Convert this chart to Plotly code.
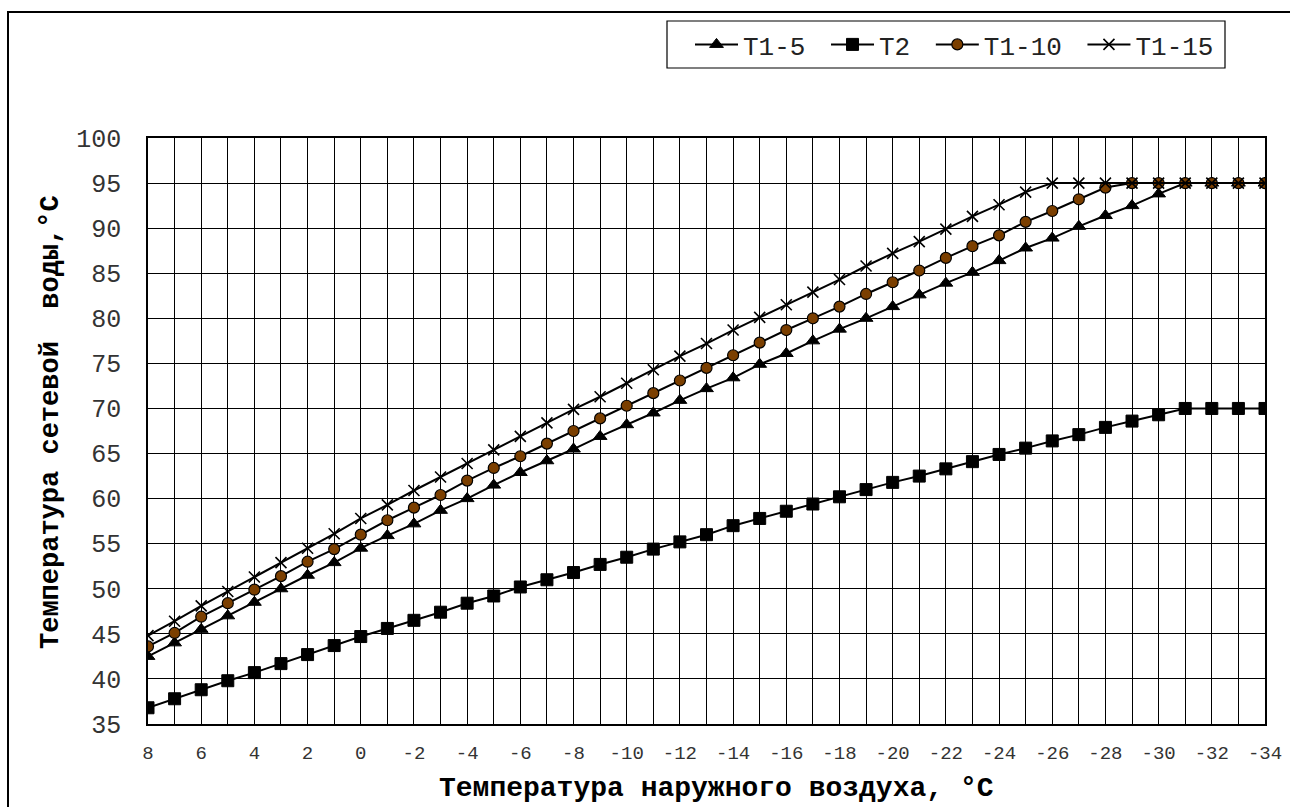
import plotly.graph_objects as go

# Outdoor air temperature categories (°C)
x_temps = [8, 7, 6, 5, 4, 3, 2, 1, 0, -1, -2, -3, -4, -5, -6, -7, -8, -9, -10, -11, -12,
           -13, -14, -15, -16, -17, -18, -19, -20, -21, -22, -23, -24, -25, -26, -27, -28,
           -29, -30, -31, -32, -33, -34]

t1_5 = [42.5, 44.0, 45.5, 47.0, 48.5, 50.0, 51.5, 52.9, 54.5, 55.9, 57.2, 58.7, 60.0, 61.5,
        62.9, 64.2, 65.5, 66.9, 68.2, 69.5, 70.9, 72.2, 73.4, 74.9, 76.1, 77.5, 78.8, 80.0,
        81.3, 82.6, 83.9, 85.1, 86.4, 87.8, 88.9, 90.2, 91.4, 92.5, 93.8, 95.0, 95.0, 95.0, 95.0]

t2 = [36.8, 37.8, 38.8, 39.8, 40.7, 41.7, 42.7, 43.7, 44.7, 45.6, 46.5, 47.4, 48.4, 49.2,
      50.2, 51.0, 51.8, 52.7, 53.5, 54.4, 55.2, 56.0, 57.0, 57.8, 58.6, 59.4, 60.2, 61.0,
      61.8, 62.5, 63.3, 64.1, 64.9, 65.6, 66.4, 67.1, 67.9, 68.6, 69.3, 70.0, 70.0, 70.0, 70.0]

t1_10 = [43.6, 45.1, 46.9, 48.4, 49.9, 51.4, 53.0, 54.4, 56.0, 57.6, 59.0, 60.4, 62.0, 63.4,
         64.7, 66.1, 67.5, 68.9, 70.3, 71.7, 73.1, 74.5, 75.9, 77.3, 78.7, 80.0, 81.3, 82.7,
         84.0, 85.3, 86.7, 88.0, 89.2, 90.7, 91.9, 93.2, 94.5, 95.0, 95.0, 95.0, 95.0, 95.0, 95.0]

t1_15 = [44.8, 46.4, 48.1, 49.7, 51.3, 52.9, 54.5, 56.1, 57.8, 59.3, 60.9, 62.4, 63.9, 65.4,
         66.9, 68.4, 69.9, 71.3, 72.8, 74.3, 75.8, 77.2, 78.7, 80.1, 81.5, 82.9, 84.3, 85.8,
         87.2, 88.5, 89.9, 91.3, 92.6, 94.0, 95.0, 95.0, 95.0, 95.0, 95.0, 95.0, 95.0, 95.0, 95.0]

series_names = ["T1-5", "T2", "T1-10", "T1-15"]
y_ticks = [35, 40, 45, 50, 55, 60, 65, 70, 75, 80, 85, 90, 95, 100]
x_tick_labels = [str(v) if v % 2 == 0 else "" for v in x_temps]
x_title = "Температура наружного воздуха, °C"
y_title = "Температура сетевой  воды,°C"

FONT = "Courier New, Liberation Mono, monospace"
W, H = 1290, 807
L, R, T, B = 148, 25, 138, 83
PW, PH = W - L - R, H - T - B


def px_x(p):
    return (p - L) / PW


def px_y(p):
    return (H - B - p) / PH


fig = go.Figure()
styles = [
    dict(symbol="triangle-up", size=12, color="black", line=dict(color="black", width=1)),
    dict(symbol="square", size=12, color="black", line=dict(color="black", width=1)),
    dict(symbol="circle", size=11, color="#7B3F00", line=dict(color="black", width=1.2)),
    dict(symbol="x-thin", size=11, color="black", line=dict(color="black", width=1.6)),
]
for i, (name, ys, mk) in enumerate(zip(series_names, [t1_5, t2, t1_10, t1_15], styles)):
    label = name + ("\u00a0" if i < len(series_names) - 1 else "")
    fig.add_trace(go.Scatter(
        x=x_temps, y=ys, name=label, mode="lines+markers",
        line=dict(color="black", width=2),
        marker=mk,
    ))

fig.update_layout(
    width=W, height=H,
    margin=dict(l=L, r=R, t=T, b=B, autoexpand=False),
    paper_bgcolor="white", plot_bgcolor="white",
    font=dict(family=FONT, color="#333333"),
    showlegend=True,
    legend=dict(
        orientation="h", x=px_x(690), xanchor="left", y=px_y(44.5), yanchor="middle",
        borderwidth=0, bgcolor="rgba(0,0,0,0)",
        font=dict(family=FONT, size=26, color="#222222"),
        itemwidth=43, tracegroupgap=0,
    ),
    xaxis=dict(
        range=[8, -34], automargin=False,
        tickmode="array", tickvals=x_temps, ticktext=x_tick_labels,
        showgrid=True, gridcolor="black", gridwidth=1.3,
        showline=True, linecolor="black", linewidth=1.5, mirror=True,
        zeroline=False, ticks="",
        tickfont=dict(family=FONT, size=19, color="#333333"),
        ticklabelstandoff=10,
    ),
    yaxis=dict(
        range=[35, 100], automargin=False,
        tickmode="array", tickvals=y_ticks,
        showgrid=True, gridcolor="black", gridwidth=1.3,
        showline=True, linecolor="black", linewidth=1.5, mirror=True,
        zeroline=False, ticks="",
        tickfont=dict(family=FONT, size=25, color="#333333"),
        ticklabelstandoff=20,
    ),
)

# axis titles
fig.add_annotation(text="<b>" + x_title + "</b>", xref="paper", yref="paper",
                   x=px_x(716), y=px_y(788), xanchor="center", yanchor="middle",
                   showarrow=False, font=dict(family=FONT, size=28, color="black"))
fig.add_annotation(text="<b>" + y_title + "</b>", xref="paper", yref="paper",
                   x=px_x(51), y=px_y(422), xanchor="center", yanchor="middle",
                   textangle=-90, showarrow=False,
                   font=dict(family=FONT, size=27, color="black"))

# legend frame
fig.add_shape(type="rect", xref="paper", yref="paper",
              x0=px_x(667), x1=px_x(1225), y0=px_y(68), y1=px_y(21),
              line=dict(color="black", width=1.2), fillcolor="rgba(0,0,0,0)", layer="above")

# outer chart frame
fig.add_shape(type="rect", xref="paper", yref="paper",
              x0=px_x(8), x1=px_x(1300), y0=px_y(815), y1=px_y(12),
              line=dict(color="black", width=2), fillcolor="rgba(0,0,0,0)", layer="above")

fig.write_html("out.html", config={"displayModeBar": False},
               post_script="document.body.style.margin='0px';")
